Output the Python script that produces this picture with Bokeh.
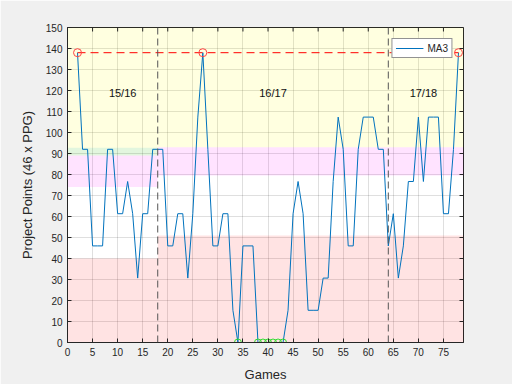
import numpy as np
from bokeh.plotting import figure
from bokeh.models import Range1d, FixedTicker, Span
from bokeh.core.properties import value
from bokeh.embed import file_html
from bokeh.resources import INLINE

# ---- data ----
games = list(range(2, 79))
ma3 = [138, 92, 92, 46, 46, 46, 92, 92, 61.33, 61.33,
       76.67, 61.33, 30.67, 61.33, 61.33, 92, 92, 92, 46, 46,
       61.33, 61.33, 30.67, 61.33, 107.33, 138, 92, 46, 46, 61.33,
       61.33, 15.33, 0, 46, 46, 46, 0, 0, 0, 0,
       0, 0, 15.33, 61.33, 76.67, 61.33, 15.33, 15.33, 15.33, 30.67,
       30.67, 76.67, 107.33, 92, 46, 46, 92, 107.33, 107.33, 107.33,
       92, 92, 46, 61.33, 30.67, 46, 76.67, 76.67, 107.33, 76.67,
       107.33, 107.33, 107.33, 61.33, 61.33, 92, 138]

season_breaks = [18, 64]
season_labels = ["15/16", "16/17", "17/18"]
season_label_x = [11, 41, 71]
season_label_y = [119, 119, 119]

# background bands: left, right, bottom, top, colour
band_left   = [0, 0, 0, 0, 18, 18, 18]
band_right  = [18, 18, 18, 18, 79, 79, 79]
band_bottom = [0, 74, 89, 92.7, 0, 79.5, 93]
band_top    = [40, 89, 92.7, 150, 51, 93, 150]
band_color  = ["#ff0000", "#ff00ff", "#22bb00", "#ffff00", "#ff0000", "#ff00ff", "#ffff00"]
band_alpha  = [0.11, 0.11, 0.13, 0.12, 0.11, 0.11, 0.12]

x_ticks = [0, 5, 10, 15, 20, 25, 30, 35, 40, 45, 50, 55, 60, 65, 70, 75]
y_ticks = [0, 10, 20, 30, 40, 50, 60, 70, 80, 90, 100, 110, 120, 130, 140, 150]
x_max = 79
y_max = 150

FONT = "Liberation Sans"
AX = "#262626"

p = figure(width=512, height=384, x_range=Range1d(0, x_max), y_range=Range1d(0, y_max),
           output_backend="svg", toolbar_location=None,
           min_border_left=67, min_border_right=49, min_border_top=27, min_border_bottom=42)
p.border_fill_color = "#f0f0f0"
p.background_fill_color = "white"
p.outline_line_color = AX
p.outline_line_width = 1

for ax in (p.xaxis[0], p.yaxis[0]):
    ax.major_tick_in = 4
    ax.major_tick_out = 0
    ax.minor_tick_line_color = None
    ax.axis_line_color = AX
    ax.major_tick_line_color = AX
    ax.major_label_text_color = AX
    ax.major_label_text_font = FONT
    ax.major_label_text_font_size = "10px"
    ax.axis_label_text_font = FONT
    ax.axis_label_text_font_size = "13px"
    ax.axis_label_text_font_style = "normal"
    ax.axis_label_text_color = AX
p.xaxis.ticker = FixedTicker(ticks=x_ticks)
p.yaxis.ticker = FixedTicker(ticks=y_ticks)
p.xaxis.axis_label = "Games"
p.yaxis.axis_label = "Project Points (46 x PPG)"
p.xaxis.major_label_standoff = 5
p.yaxis.major_label_standoff = 5
p.xaxis.axis_label_standoff = 8
p.yaxis.axis_label_standoff = 8

p.grid.grid_line_color = AX
p.grid.grid_line_alpha = 0.15
p.xgrid.ticker = FixedTicker(ticks=x_ticks)
p.ygrid.ticker = FixedTicker(ticks=y_ticks)

p.quad(left=band_left, right=band_right, bottom=band_bottom, top=band_top,
       fill_color=band_color, fill_alpha=band_alpha, line_color=None)

for b in season_breaks:
    p.add_layout(Span(location=b, dimension="height", line_color="#555555",
                      line_dash="7 4", line_width=1))

p.text(x=season_label_x, y=season_label_y, text=season_labels,
       text_font=value(FONT), text_font_size="11px", text_color="#111111",
       text_align="center", text_baseline="middle")

line = p.line(games, ma3, line_color="#0072bd", line_width=1, legend_label="MA3")

arr = np.array(ma3)
gx = np.array(games)
mx = gx[arr == arr.max()]
mn = gx[arr == arr.min()]
p.line([mx.min(), mx.max()], [arr.max(), arr.max()], line_color="#ff0000",
       line_dash="8 5", line_width=1)
p.scatter(mx, [arr.max()] * len(mx), marker="circle", size=8, fill_color=None,
          line_color="#ff4444", line_width=1)
p.scatter(mn, [arr.min()] * len(mn), marker="circle", size=7, fill_color=None,
          line_color="#33dd33", line_width=1)

# mirrored inward ticks on the top and right edges (box on)
p.scatter(x_ticks, [y_max] * len(x_ticks), marker="dash", angle=np.pi / 2, size=8,
          line_color=AX, line_width=1)
p.scatter([x_max] * len(y_ticks), y_ticks, marker="dash", size=8,
          line_color=AX, line_width=1)

lg = p.legend[0]
lg.location = "top_right"
lg.margin = 11
lg.padding = 3
lg.spacing = 0
lg.glyph_width = 28
lg.glyph_height = 12
lg.label_standoff = 4
lg.label_text_font = FONT
lg.label_text_font_size = "10px"
lg.label_text_color = AX
lg.border_line_color = AX
lg.border_line_width = 1
lg.background_fill_color = "white"
lg.background_fill_alpha = 1

open("out.html", "w").write(file_html(p, INLINE))
